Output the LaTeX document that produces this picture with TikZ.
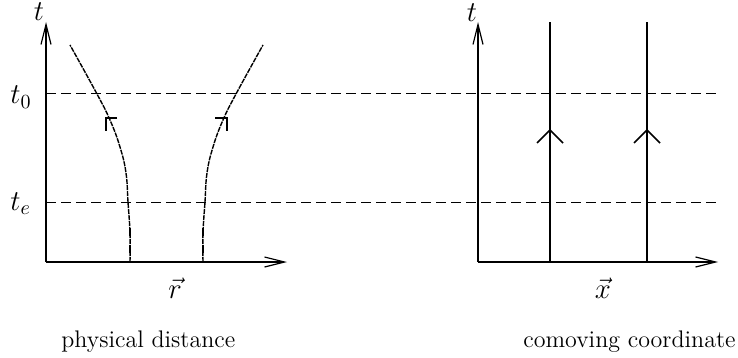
\documentclass[tikz,border=0pt]{standalone}
\usetikzlibrary{arrows.meta}

\begin{document}
\begin{tikzpicture}[
  x=0.5pt, y=-0.5pt,
  axis/.style={line width=1.35pt, -{Straight Barb[length=10pt, width=5pt, line width=0.6pt]}},
  slice/.style={line width=0.5pt, dash pattern=on 5pt off 2.5pt},
  worldline/.style={line width=1.35pt},
  geodesic/.style={line width=0.7pt, dash pattern=on 2.5pt off 0.5pt},
  stub/.style={line width=1.3pt, dash pattern=on 4pt off 4.5pt},
  hook/.style={line width=1.3pt},
  chevron/.style={line width=0.8pt},
  lbl/.style={font=\Large, inner sep=0pt},
  caption/.style={font=\large, inner sep=0pt},
]
\useasboundingbox (0,0) rectangle (738,358);

\coordinate (physO) at (46,262);
\coordinate (physT) at (46,22);
\coordinate (physR) at (287,262);
\coordinate (comoO) at (478,262);
\coordinate (comoT) at (478,22);
\coordinate (comoX) at (718,262);

% time slices, across both panels
\coordinate (nowA) at (46,94);   \coordinate (nowB) at (717,94);
\coordinate (emA)  at (46,202);  \coordinate (emB)  at (717,202);
\draw[slice] (nowA) -- (nowB);
\draw[slice] (emA)  -- (emB);

% physical distance
\draw[axis] (physO) -- (physT);
\draw[axis] (physO) -- (physR);
\draw[geodesic] plot[smooth, tension=0.7] coordinates {(130,262) (130,233) (128,202) (126,173) (120,147) (110,120) (97,94) (70,45)};
\draw[geodesic] plot[smooth, tension=0.7] coordinates {(203,262) (203,233) (205,202) (207,173) (213,147) (223,120) (236,94) (263,45)};
\draw[stub] (130,228) -- (130,262);
\draw[stub] (203,228) -- (203,262);
\draw[hook] (117,118) -- (106,118) -- (106,131);
\draw[hook] (215,118) -- (227,118) -- (227,131);

% comoving coordinate
\draw[axis] (comoO) -- (comoT);
\draw[axis] (comoO) -- (comoX);
\draw[worldline] (550,262) -- (550,22);
\draw[worldline] (647,262) -- (647,22);
\draw[chevron] (537,143) -- (550,130) -- (563,143);
\draw[chevron] (634,143) -- (647,130) -- (660,143);

\node[lbl, anchor=base] (tPhys) at (39,21) {$t$};
\node[lbl, anchor=base] (tCom)  at (472,22) {$t$};
\node[lbl, anchor=base west] (tNow) at (10,104) {$t_0$};
\node[lbl, anchor=base west] (tEm)  at (10,210) {$t_e$};
\node[lbl, anchor=base] (rVec) at (175,298) {$\vec{r}$};
\node[lbl, anchor=base] (xVec) at (603,298) {$\vec{x}$};

\node[caption, anchor=base west] (physCap) at (61,347) {physical distance};
\node[caption, anchor=base east] (comoCap) at (736,347) {comoving coordinate};

\end{tikzpicture}
\end{document}
